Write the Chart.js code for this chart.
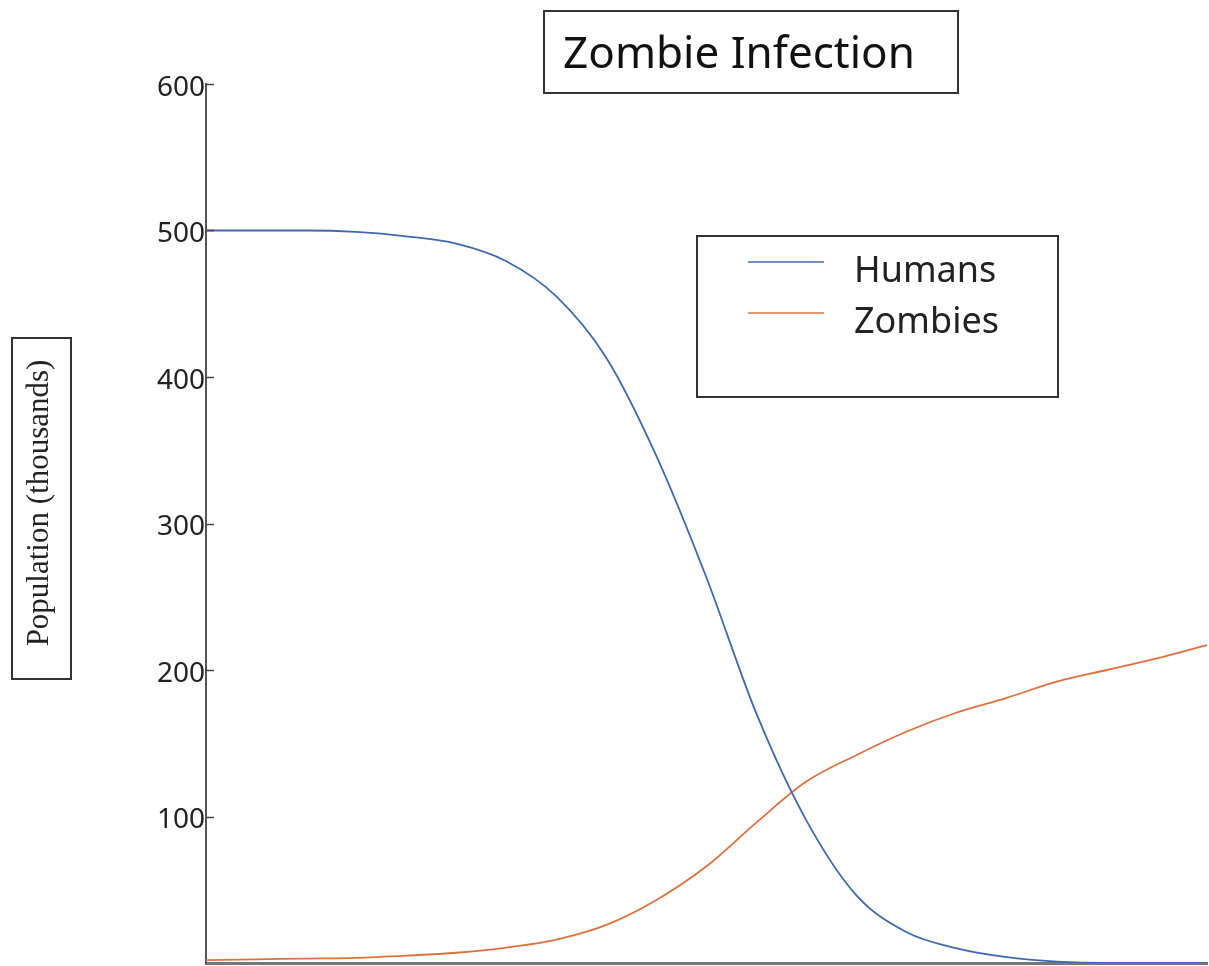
<!DOCTYPE html>
<html>
<head>
<meta charset="utf-8">
<title>Zombie Infection</title>
<script src="https://cdn.jsdelivr.net/npm/chart.js@4.4.1/dist/chart.umd.min.js"></script>
<style>
  body { margin: 0; background: #fff; }
</style>
</head>
<body>
<canvas id="zombieChart" width="1209" height="966"></canvas>
<script>
// time steps (no labels shown on the x axis)
var days = [0, 5, 10, 15, 20, 25, 30, 35, 40, 45, 50, 55, 60, 65, 70, 75, 80, 85, 90, 95, 100];
// population, thousands
var humans  = [500, 500, 500, 499, 496, 491, 479, 455, 413, 346, 263, 170, 97, 46, 21, 10, 4, 1, 0, 0, 0];
var zombies = [2, 2.5, 3, 3.5, 5, 7, 10.5, 16, 26, 43, 66, 96, 124, 142, 158, 171, 181, 192, 200, 208, 217];
var yTicks  = [100, 200, 300, 400, 500, 600];

// boxes, tick marks and legend are drawn by hand, the picture has its own layout
var decorPlugin = {
  id: 'decor',
  afterDraw: function (chart) {
    var ctx = chart.ctx;
    var area = chart.chartArea;
    var yScale = chart.scales.y;
    ctx.save();

    // short tick marks pointing into the plot
    ctx.strokeStyle = '#444';
    ctx.lineWidth = 1.5;
    yTicks.forEach(function (v) {
      var py = Math.round(yScale.getPixelForValue(v)) + 0.5;
      ctx.beginPath();
      ctx.moveTo(area.left, py);
      ctx.lineTo(area.left + 8, py);
      ctx.stroke();
    });

    // title in a box
    ctx.lineWidth = 2;
    ctx.strokeStyle = '#333';
    ctx.strokeRect(544, 11, 414, 82);
    ctx.fillStyle = '#111';
    ctx.font = '44px "Noto Sans"';
    ctx.textAlign = 'center';
    ctx.textBaseline = 'middle';
    ctx.fillText('Zombie Infection', 739, 55);

    // y axis title in a box
    ctx.strokeRect(12, 338, 59, 341);
    ctx.save();
    ctx.translate(40, 503);
    ctx.rotate(-Math.PI / 2);
    ctx.font = '31px "Liberation Serif"';
    ctx.fillStyle = '#222';
    ctx.fillText('Population (thousands)', 0, 0);
    ctx.restore();

    // legend
    ctx.strokeRect(697, 236, 361, 161);
    ctx.textAlign = 'left';
    ctx.font = '36px "Noto Sans"';
    chart.data.datasets.forEach(function (ds, i) {
      var ly = 262 + i * 51;
      ctx.strokeStyle = ds.borderColor;
      ctx.lineWidth = 1.5;
      ctx.beginPath();
      ctx.moveTo(748, ly);
      ctx.lineTo(824, ly);
      ctx.stroke();
      ctx.fillStyle = '#222';
      ctx.fillText(ds.label, 854, ly + 10);
    });

    ctx.restore();
  }
};

var ctx = document.getElementById('zombieChart').getContext('2d');
var myChart = new Chart(ctx, {
  type: 'line',
  data: {
    labels: days,
    datasets: [{
      label: 'Humans',
      data: humans,
      borderColor: '#4068B2',
      borderWidth: 1.8,
      pointRadius: 0,
      fill: false,
      cubicInterpolationMode: 'monotone'
    }, {
      label: 'Zombies',
      data: zombies,
      borderColor: '#E0703E',
      borderWidth: 1.8,
      pointRadius: 0,
      fill: false,
      cubicInterpolationMode: 'monotone'
    }]
  },
  options: {
    responsive: false,
    animation: false,
    layout: { padding: { top: 84, right: 2, bottom: 3, left: 0 } },
    plugins: {
      legend: { display: false },
      title: { display: false },
      tooltip: { enabled: false }
    },
    scales: {
      x: {
        ticks: { display: false },
        grid: { display: false },
        border: { display: true, color: '#777', width: 3 },
        afterFit: function (s) { s.height = 0; }
      },
      y: {
        min: 0,
        max: 600,
        afterBuildTicks: function (s) {
          s.ticks = yTicks.map(function (v) { return { value: v }; });
        },
        ticks: {
          padding: -7,
          labelOffset: 4,
          color: '#222',
          font: { family: 'Noto Sans', size: 28 }
        },
        grid: { display: false },
        border: { display: true, color: '#555', width: 2 },
        afterFit: function (s) {
          s.width = 206;
          s.paddingTop = 0;
          s.paddingBottom = 0;
        }
      }
    }
  },
  plugins: [decorPlugin]
});
</script>
</body>
</html>
